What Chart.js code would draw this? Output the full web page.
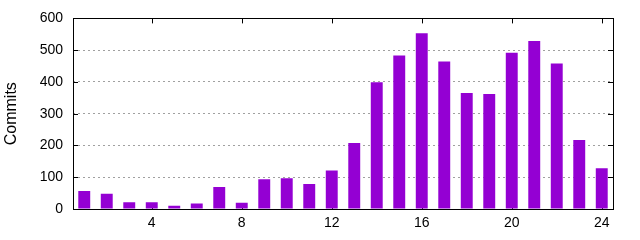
<!DOCTYPE html>
<html>
<head>
<meta charset="utf-8">
<script src="https://cdn.jsdelivr.net/npm/chart.js@4"></script>
<style>
  html, body { margin: 0; padding: 0; background: #fff; }
  #wrap { width: 640px; height: 240px; }
</style>
</head>
<body>
<div id="wrap"><canvas id="commits-graph"></canvas></div>
<script>
var hours = [1, 2, 3, 4, 5, 6, 7, 8, 9, 10, 11, 12, 13, 14, 15, 16, 17, 18, 19, 20, 21, 22, 23, 24];
var commits = [57, 48, 21, 21, 10, 17, 69, 20, 94, 97, 79, 121, 208, 399, 483, 553, 464, 365, 362, 492, 529, 458, 217, 128];
var hour_ticks = [4, 8, 12, 16, 20, 24];
var commit_ticks = [0, 100, 200, 300, 400, 500, 600];

var points = [];
for (var i = 0; i < hours.length; i++) {
    points.push({x: hours[i], y: commits[i]});
}

// gnuplot like frame with inward tics
const framePlugin = {
    id: 'frame',
    beforeDatasetsDraw(chart) {
        const ctx = chart.ctx;
        const area = chart.chartArea;
        const xs = chart.scales.x;
        const ys = chart.scales.y;
        ctx.save();
        ctx.strokeStyle = '#000';
        ctx.lineWidth = 1;
        ctx.beginPath();
        for (let i = 0; i < hour_ticks.length; i++) {
            let px = Math.round(xs.getPixelForValue(hour_ticks[i])) + 0.5;
            ctx.moveTo(px, area.bottom);
            ctx.lineTo(px, area.bottom - 5);
            ctx.moveTo(px, area.top);
            ctx.lineTo(px, area.top + 5);
        }
        for (let i = 0; i < commit_ticks.length; i++) {
            let py = Math.round(ys.getPixelForValue(commit_ticks[i])) + 0.5;
            ctx.moveTo(area.left, py);
            ctx.lineTo(area.left + 5, py);
            ctx.moveTo(area.right, py);
            ctx.lineTo(area.right - 5, py);
        }
        ctx.stroke();
        ctx.restore();
    },
    afterDatasetsDraw(chart) {
        const ctx = chart.ctx;
        const a = chart.chartArea;
        ctx.save();
        ctx.strokeStyle = '#000';
        ctx.lineWidth = 1;
        ctx.strokeRect(Math.round(a.left) + 0.5, Math.round(a.top) + 0.5,
            Math.round(a.right - a.left), Math.round(a.bottom - a.top));
        ctx.restore();
    }
};

Chart.defaults.font.family = "'Liberation Sans', Arial, sans-serif";
Chart.defaults.font.size = 14;
Chart.defaults.color = '#000';

const commits_graph = document.getElementById('commits-graph').getContext('2d');
let barChart = new Chart(commits_graph, {
    type: 'bar',
    data: {
        datasets: [
            {
                label: 'Commits',
                data: points,
                backgroundColor: '#9400d3',
                borderWidth: 0,
                categoryPercentage: 1,
                barPercentage: 0.53,
            },
        ],
    },
    options: {
        responsive: true,
        maintainAspectRatio: false,
        animation: false,
        layout: {
            padding: {top: 14, right: 27, left: 0, bottom: 0}
        },
        plugins: {
            legend: {display: false},
            tooltip: {enabled: false},
        },
        scales: {
            x: {
                type: 'linear',
                min: 0.5,
                max: 24.5,
                offset: false,
                afterBuildTicks: function(scale) {
                    scale.ticks = hour_ticks.map(function(v) { return {value: v}; });
                },
                afterFit: function(scale) {
                    scale.height = 31;
                },
                grid: {display: false, drawTicks: false},
                border: {display: false},
                ticks: {padding: 6, maxRotation: 0, autoSkip: false},
            },
            y: {
                min: 0,
                max: 600,
                afterBuildTicks: function(scale) {
                    scale.ticks = commit_ticks.map(function(v) { return {value: v}; });
                },
                afterFit: function(scale) {
                    scale.width = 73;
                },
                grid: {
                    drawTicks: false,
                    lineWidth: 1,
                    color: function(c) {
                        if (c.tick && (c.tick.value === 0 || c.tick.value === 600)) {
                            return 'rgba(0,0,0,0)';
                        }
                        return '#a0a0a0';
                    },
                },
                border: {display: false, dash: [2, 3]},
                ticks: {padding: 10},
                title: {
                    display: true,
                    text: 'Commits',
                    font: {size: 16},
                    padding: {top: 2, bottom: 0},
                },
            },
        },
    },
    plugins: [framePlugin],
});
</script>
</body>
</html>
